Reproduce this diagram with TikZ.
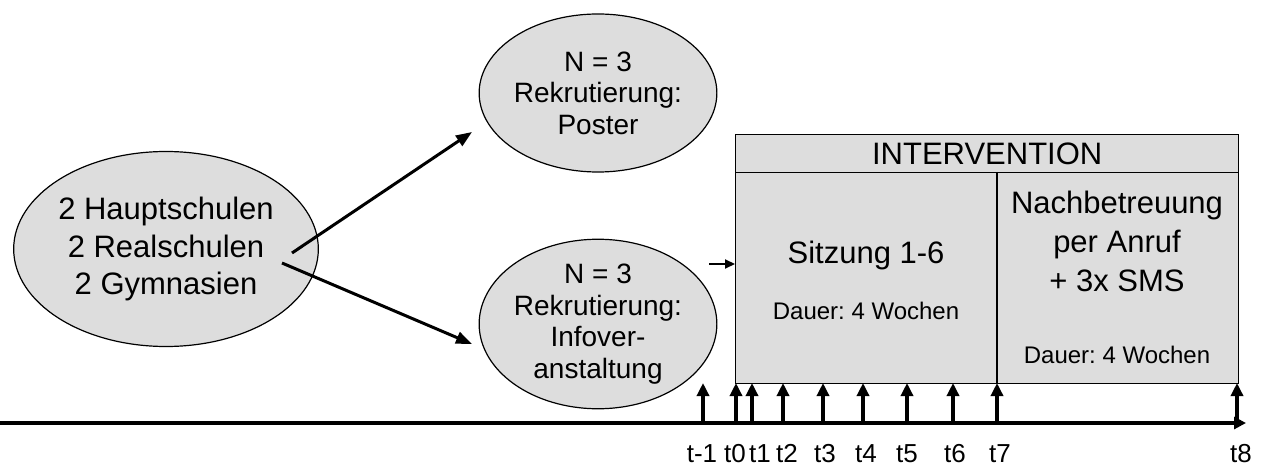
\documentclass[tikz,border=0pt]{standalone}
\usepackage{fontspec}
\setmainfont{Liberation Sans}
\usetikzlibrary{arrows.meta,calc,shapes.geometric}
\definecolor{fillgray}{RGB}{221,221,221}
\frenchspacing
\begin{document}
\begin{tikzpicture}[x=1pt,y=-1pt,
  bub/.style={ellipse, draw=black, line width=1.2pt, fill=fillgray, align=center, inner sep=0pt},
  big/.style={font=\fontsize{31}{37.5}\selectfont},
  mid/.style={font=\fontsize{28}{31.5}\selectfont},
  small/.style={font=\fontsize{24}{28}\selectfont},
  panel/.style={draw=black, line width=1.4pt, fill=fillgray, inner sep=0pt, anchor=north west},
  conn/.style={line width=3pt, -{Triangle[length=16pt,width=12pt]}},
  tickarrow/.style={line width=3.4pt, -{Triangle[length=13pt,width=12pt]}},
  lab/.style={font=\fontsize{26}{30}\selectfont, anchor=base}
]
\useasboundingbox (0,0) rectangle (1263,465);

% ellipses
\node[bub, big, minimum width=252pt, minimum height=195pt] (L) at (166,249) {2 Hauptschulen\\2 Realschulen\\2 Gymnasien};
\node[bub, mid, minimum width=234pt, minimum height=158pt] (T) at (598,93) {N = 3\\Rekrutierung:\\Poster};
\node[bub, mid, minimum width=236pt, minimum height=152pt] (B) at (598,324) {N = 3\\Rekrutierung:\\Infover-\\anstaltung};

% intervention box
\node[panel, minimum width=503pt, minimum height=38pt] (H) at (735,134) {};
\node[big, anchor=center] (Htxt) at (H.center) {INTERVENTION};
\node[panel, minimum width=262pt, minimum height=211pt] (S) at (735,172) {};
\node[panel, minimum width=241pt, minimum height=211pt] (A) at (997,172) {};
\draw[line width=2.4pt] (A.north west) -- (A.south west);

\node[big, anchor=base] (S1) at (866,263) {Sitzung 1-6};
\node[small, anchor=base] (S2) at (866,319) {Dauer: 4 Wochen};
\node[big, anchor=base] (A1) at (1117,213) {Nachbetreuung};
\node[big, anchor=base] (A2) at (1117,252) {per Anruf};
\node[big, anchor=base] (A3) at (1117,291) {+ 3x SMS};
\node[small, anchor=base] (A4) at (1117,363) {Dauer: 4 Wochen};

% connectors from schools
\coordinate (tipT) at (472,132);
\coordinate (tipB) at (472,344);
\coordinate (startU) at (292,253);
\coordinate (startD) at (282,263);
\draw[conn] (startU) -- (tipT);
\draw[conn] (startD) -- (tipB);

% small arrow into box
\coordinate (inS) at (709,264);
\draw[line width=2pt, -{Triangle[length=10pt,width=9pt]}] (inS) -- (S.west |- inS);

% timeline
\coordinate (tl0) at (0,423);
\coordinate (tl1) at (1246,423);
\draw[line width=4pt, -{Triangle[length=12pt,width=12pt]}] (tl0) -- (tl1);

% ticks
\foreach \x/\lx/\t in {703/702/t-1, 736/735/t0, 752/760/t1, 783/787/t2, 823/825/t3, 863/866/t4, 907/907/t5, 953/955/t6, 997/1000/t7, 1237/1241/t8}{
  \coordinate (b\t) at (\x,423);
  \coordinate (e\t) at (\x,383);
  \draw[tickarrow] (b\t) -- (e\t);
  \node[lab] (l\t) at (\lx,462) {\t};
}
\end{tikzpicture}
\end{document}
